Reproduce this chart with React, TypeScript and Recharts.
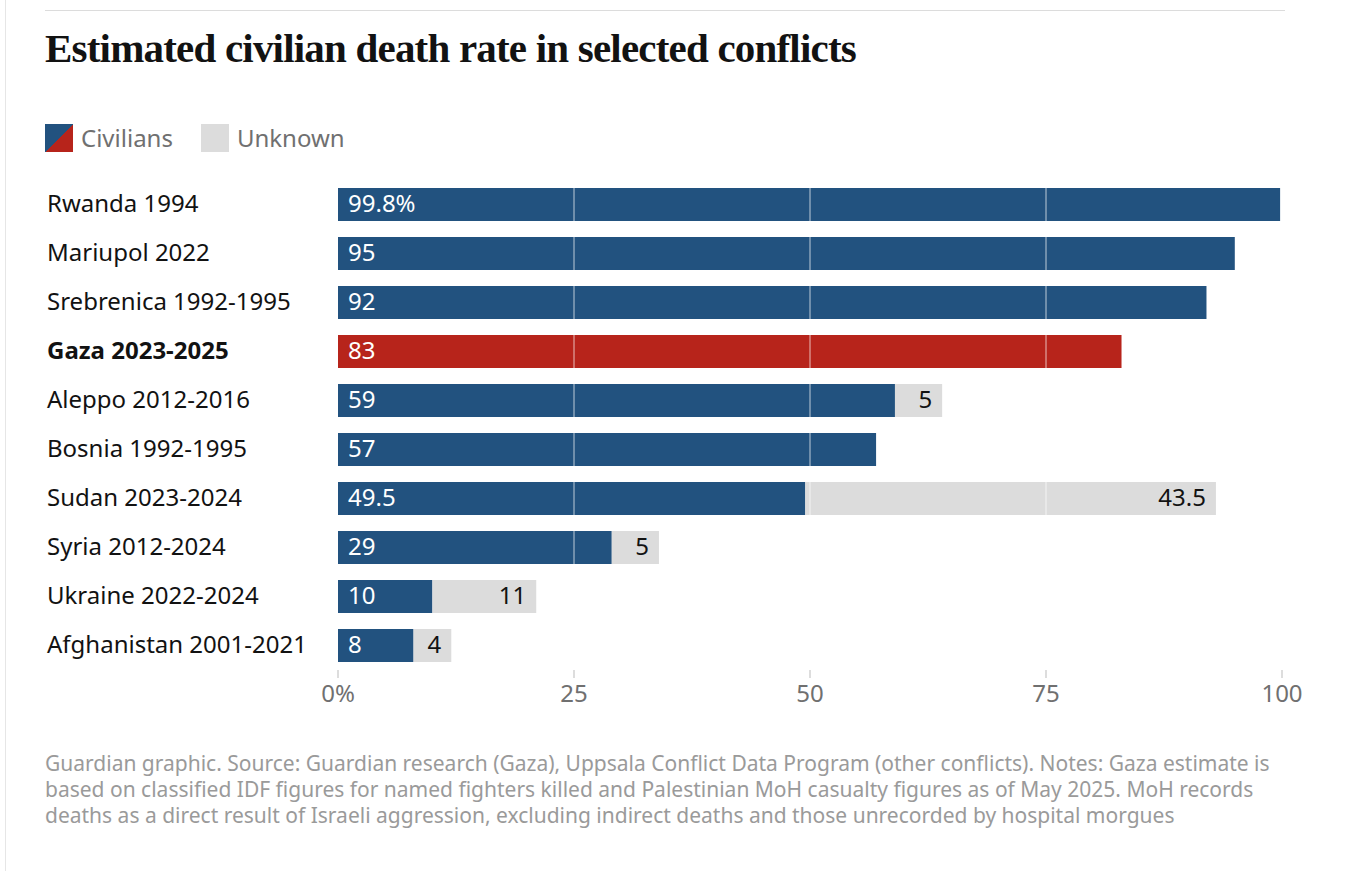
import React from "react";
import { BarChart, Bar, XAxis, YAxis, LabelList, ReferenceLine, Cell } from "recharts";

const conflicts = [
  "Rwanda 1994",
  "Mariupol 2022",
  "Srebrenica 1992-1995",
  "Gaza 2023-2025",
  "Aleppo 2012-2016",
  "Bosnia 1992-1995",
  "Sudan 2023-2024",
  "Syria 2012-2024",
  "Ukraine 2022-2024",
  "Afghanistan 2001-2021",
];
const civilians = [99.8, 95, 92, 83, 59, 57, 49.5, 29, 10, 8];
const unknown = [0, 0, 0, 0, 5, 0, 43.5, 5, 11, 4];
const ticks = [0, 25, 50, 75, 100];

const data = conflicts.map((name, i) => ({ name, civilians: civilians[i], unknown: unknown[i] }));

const BLUE = "#22527f";
const RED = "#b7241b";
const GREY = "#dcdcdc";
const FONT = "'Noto Sans', sans-serif";

function CivLabel(props: any) {
  const { x, y, height, value, index } = props;
  const text = index === 0 ? `${value}%` : String(value);
  return (
    <text x={x + 10} y={y + height / 2 + 1} fill="#fff" fontSize={24} fontFamily={FONT} dominantBaseline="middle">
      {text}
    </text>
  );
}

function UnkLabel(props: any) {
  const { x, y, width, height, value } = props;
  if (!value) return null;
  return (
    <text x={x + width - 10} y={y + height / 2 + 1} fill="#121212" fontSize={24} fontFamily={FONT} textAnchor="end" dominantBaseline="middle">
      {value}
    </text>
  );
}

function CatTick(props: any) {
  const { y, payload } = props;
  const bold = payload.value === "Gaza 2023-2025";
  return (
    <text x={47} y={y + 1} fill="#121212" fontSize={24} fontFamily={FONT} fontWeight={bold ? 700 : 400} dominantBaseline="middle">
      {payload.value}
    </text>
  );
}

function ValTick(props: any) {
  const { x, y, payload } = props;
  return (
    <text x={x} y={y + 22} fill="#707070" fontSize={24} fontFamily={FONT} textAnchor="middle">
      {payload.value === 0 ? "0%" : payload.value}
    </text>
  );
}

export default function App() {
  return (
    <div style={{ position: "absolute", left: 0, top: 0, width: 1349, height: 871, background: "#fff", fontFamily: FONT }}>
      <div style={{ position: "absolute", left: 5, top: 0, width: 1, height: 871, background: "#e6e6e6" }} />
      <div style={{ position: "absolute", left: 45, top: 10, width: 1240, height: 1, background: "#dcdcdc" }} />
      <div style={{ position: "absolute", left: 45, top: 24, fontFamily: "'Liberation Serif', serif", fontWeight: 700, fontSize: 41, color: "#121212", letterSpacing: -0.8 }}>
        Estimated civilian death rate in selected conflicts
      </div>
      <div style={{ position: "absolute", left: 45, top: 121, display: "flex", alignItems: "center", fontSize: 24, color: "#707070" }}>
        <div style={{ width: 28, height: 28, background: `linear-gradient(to bottom right, ${BLUE} 50%, ${RED} 50%)` }} />
        <span style={{ marginLeft: 8 }}>Civilians</span>
        <div style={{ width: 28, height: 28, background: GREY, marginLeft: 28 }} />
        <span style={{ marginLeft: 8 }}>Unknown</span>
      </div>
      <div style={{ position: "absolute", left: 0, top: 0 }}>
        <BarChart width={1349} height={720} data={data} layout="vertical" margin={{ top: 180, right: 67, left: 0, bottom: 0 }} barCategoryGap={8}>
          <XAxis type="number" domain={[0, 100]} ticks={ticks} axisLine={false} tickLine={{ stroke: "#bbb" }} tickSize={8} tick={<ValTick />} height={50} interval={0} />
          <YAxis type="category" dataKey="name" width={338} axisLine={false} tickLine={false} tick={<CatTick />} interval={0} />
          <Bar dataKey="civilians" stackId="a" isAnimationActive={false}>
            {data.map((d, i) => (
              <Cell key={i} fill={d.name === "Gaza 2023-2025" ? RED : BLUE} />
            ))}
            <LabelList dataKey="civilians" content={<CivLabel />} />
          </Bar>
          <Bar dataKey="unknown" stackId="a" fill={GREY} isAnimationActive={false}>
            <LabelList dataKey="unknown" content={<UnkLabel />} />
          </Bar>
          {[25, 50, 75].map((t) => (
            <ReferenceLine key={t} x={t} stroke="#fff" strokeOpacity={0.7} strokeWidth={1} />
          ))}
        </BarChart>
      </div>
      <div style={{ position: "absolute", left: 45, top: 750, width: 1240, fontSize: 21, lineHeight: "26px", color: "#9a9a9a" }}>
        Guardian graphic. Source: Guardian research (Gaza), Uppsala Conflict Data Program (other conflicts). Notes: Gaza estimate is based on classified IDF figures for named fighters killed and Palestinian MoH casualty figures as of May 2025. MoH records deaths as a direct result of Israeli aggression, excluding indirect deaths and those unrecorded by hospital morgues
      </div>
    </div>
  );
}
